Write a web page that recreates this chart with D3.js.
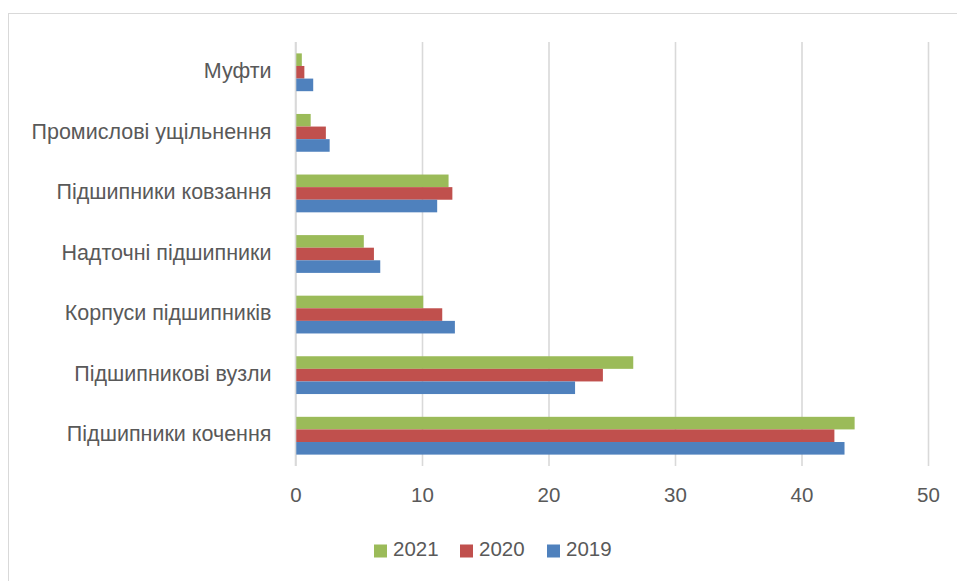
<!DOCTYPE html>
<html>
<head>
<meta charset="utf-8">
<script src="https://cdn.jsdelivr.net/npm/d3@7"></script>
<style>
  html, body { margin: 0; padding: 0; background: #fff; }
  svg { display: block; }
  text { font-family: "Liberation Sans", Arial, sans-serif; fill: #595959; }
</style>
</head>
<body>
<svg id="chart" width="957" height="581"></svg>
<script>
// Product groups, listed top to bottom
const categories = [
  "Муфти",
  "Промислові ущільнення",
  "Підшипники ковзання",
  "Надточні підшипники",
  "Корпуси підшипників",
  "Підшипникові вузли",
  "Підшипники кочення"
];
const seriesNames = ["2021", "2020", "2019"];
const values2021 = [0.5, 1.2, 12.1, 5.4, 10.1, 26.7, 44.2];
const values2020 = [0.7, 2.4, 12.4, 6.2, 11.6, 24.3, 42.6];
const values2019 = [1.4, 2.7, 11.2, 6.7, 12.6, 22.1, 43.4];
const xTicks = [0, 10, 20, 30, 40, 50];
const seriesColors = ["#9BBB59", "#C0504D", "#4F81BD"];

const seriesValues = [values2021, values2020, values2019];
const rows = categories.map((c, i) => ({
  category: c,
  values: seriesNames.map((s, k) => ({ series: s, value: seriesValues[k][i] }))
}));

const svg = d3.select("#chart");
const labelSize = 21.5;
const tickSize = 20.5;

// Chart area frame
svg.append("rect")
  .attr("x", 8.5).attr("y", 13.5)
  .attr("width", 1000).attr("height", 1000)
  .attr("fill", "none").attr("stroke", "#d9d9d9").attr("stroke-width", 1);

const plot = { left: 295.5, right: 928, top: 42, bottom: 466 };

const x = d3.scaleLinear().domain([0, 50]).range([plot.left, plot.right]);
const y = d3.scaleBand().domain(categories)
  .range([plot.top, plot.bottom])
  .paddingInner(0.376).paddingOuter(0.188);
const ySub = d3.scaleBand().domain(seriesNames).range([0, y.bandwidth()]);
const color = d3.scaleOrdinal().domain(seriesNames).range(seriesColors);

// Vertical gridlines (value axis)
const grid = d3.axisBottom(x).tickValues(xTicks)
  .tickSize(-(plot.bottom - plot.top)).tickFormat("");
svg.append("g")
  .attr("transform", `translate(0,${plot.bottom})`)
  .call(grid)
  .call(g => g.select(".domain").remove())
  .call(g => g.selectAll(".tick line").attr("stroke", "#d9d9d9").attr("stroke-width", 1.6));

// Value tick labels
const xAxis = d3.axisBottom(x).tickValues(xTicks).tickSize(0).tickPadding(0);
svg.append("g")
  .attr("transform", `translate(0,${plot.bottom})`)
  .call(xAxis)
  .call(g => g.select(".domain").remove())
  .call(g => g.selectAll("text")
    .attr("dy", null).attr("y", 31)
    .attr("dominant-baseline", "middle")
    .style("font-size", tickSize + "px")
    .style("font-family", null).attr("fill", "#595959"));

// Category labels
const yAxis = d3.axisLeft(y).tickSize(0).tickPadding(0);
svg.append("g")
  .attr("transform", `translate(${plot.left - 24},0)`)
  .call(yAxis)
  .call(g => g.select(".domain").remove())
  .call(g => g.selectAll("text")
    .attr("dy", null).attr("dominant-baseline", "middle")
    .style("font-size", labelSize + "px")
    .style("font-family", null).attr("fill", "#595959"));

// Bars
const groups = svg.append("g").selectAll("g")
  .data(rows).join("g")
  .attr("transform", d => `translate(0,${y(d.category)})`);
groups.selectAll("rect")
  .data(d => d.values).join("rect")
  .attr("x", x(0))
  .attr("y", d => ySub(d.series))
  .attr("width", d => x(d.value) - x(0))
  .attr("height", ySub.bandwidth())
  .attr("fill", d => color(d.series));

// Category axis line at zero
svg.append("line")
  .attr("x1", x(0)).attr("x2", x(0))
  .attr("y1", plot.top).attr("y2", plot.bottom)
  .attr("stroke", "#d9d9d9").attr("stroke-width", 1.6);

// Legend
const legendX = [374, 460, 547];
const legend = svg.append("g").selectAll("g")
  .data(seriesNames).join("g")
  .attr("transform", (d, i) => `translate(${legendX[i]},551)`);
legend.append("rect")
  .attr("x", 0).attr("y", -6.5).attr("width", 13).attr("height", 13)
  .attr("fill", d => color(d));
legend.append("text")
  .attr("x", 19).attr("y", 0)
  .attr("dominant-baseline", "middle")
  .style("font-size", tickSize + "px")
  .text(d => d);
</script>
</body>
</html>
